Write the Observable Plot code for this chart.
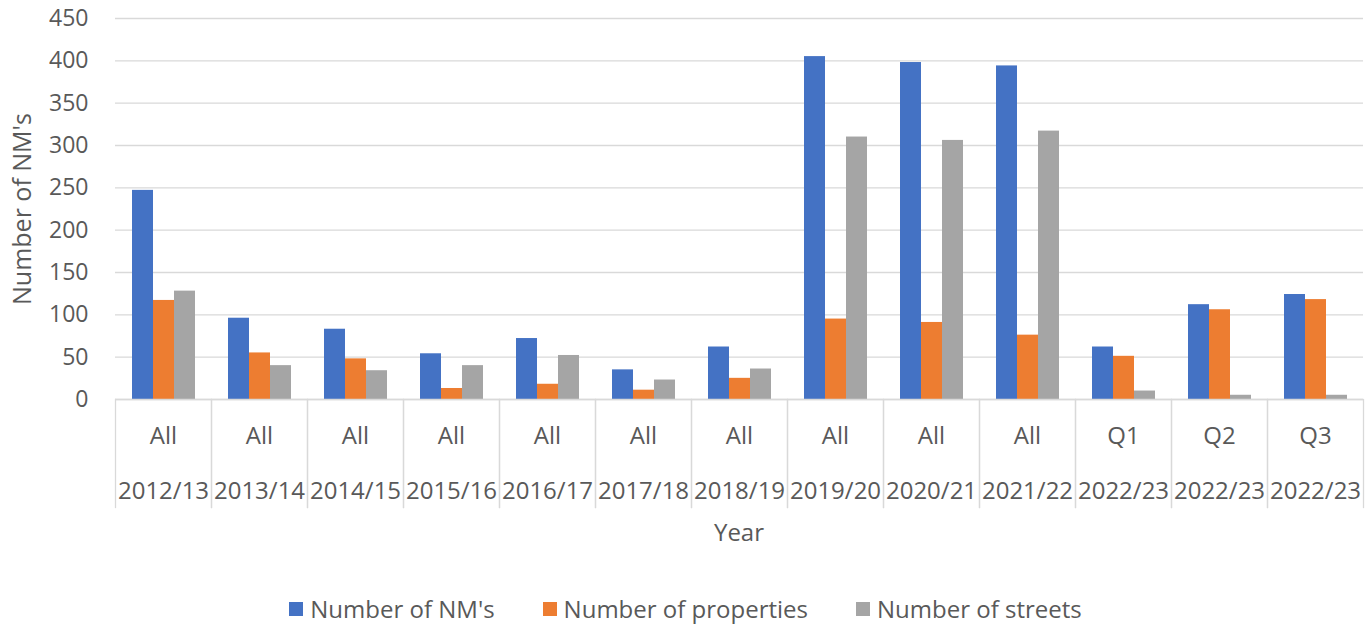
<!DOCTYPE html>
<html>
<head>
<meta charset="utf-8">
<script src="https://cdn.jsdelivr.net/npm/d3@7"></script>
<script src="https://cdn.jsdelivr.net/npm/@observablehq/plot@0.6"></script>
<style>
  body { margin: 0; background: #fff; font-family: "Open Sans", sans-serif; color: #595959; }
  #year { margin-left: 112px; width: 1254px; text-align: center; font-size: 24px; line-height: 40px; height: 40px; }
  #legend { display: flex; justify-content: center; gap: 48px; margin-top: 42px; font-size: 24px; line-height: 30px; padding-left: 4px; }
  .item { display: flex; align-items: center; }
  .sw { width: 14px; height: 14px; margin-right: 7px; }
</style>
</head>
<body>
<div id="chart"></div>
<div id="year">Year</div>
<div id="legend"></div>
<script>
const periods = ["All","All","All","All","All","All","All","All","All","All","Q1","Q2","Q3"];
const years = ["2012/13","2013/14","2014/15","2015/16","2016/17","2017/18","2018/19","2019/20","2020/21","2021/22","2022/23","2022/23","2022/23"];
const nms        = [247, 96, 83, 54, 72, 35, 62, 405, 398, 394, 62, 112, 124];
const properties = [117, 55, 48, 13, 18, 11, 25,  95,  91,  76, 51, 106, 118];
const streets    = [128, 40, 34, 40, 52, 23, 36, 310, 306, 317, 10,   5,   5];
const seriesNames = ["Number of NM's", "Number of properties", "Number of streets"];
const colors = ["#4472C4", "#ED7D31", "#A5A5A5"];
const yTicks = [0, 50, 100, 150, 200, 250, 300, 350, 400, 450];

const keys = years.map((y, i) => `${periods[i]} ${y}`);
const seriesValues = [nms, properties, streets];
const rows = keys.flatMap((k, i) => seriesValues.map((arr, j) => ({key: k, series: seriesNames[j], value: arr[i]})));

const grid = "#d9d9d9";
const chart = Plot.plot({
  width: 1367,
  height: 512,
  marginTop: 18,
  marginBottom: 113,
  marginLeft: 112,
  marginRight: 1,
  style: {fontFamily: "'Open Sans', sans-serif", fontSize: "24px", color: "#595959", background: "#fff"},
  fx: {domain: keys, padding: 0},
  x: {domain: seriesNames, paddingInner: 0, paddingOuter: 0.76, axis: null},
  y: {domain: [0, 450], labelArrow: false},
  color: {domain: seriesNames, range: colors},
  marks: [
    Plot.gridY(yTicks, {stroke: grid, strokeOpacity: 1, strokeWidth: 1.3}),
    Plot.axisY(yTicks, {anchor: "left", tickSize: 0, tickPadding: 27, fontSize: 23, label: null}),
    Plot.axisY({anchor: "left", ticks: [], tickSize: 0, fontSize: 25, label: "Number of NM's", labelArrow: false, labelAnchor: "center", labelOffset: 102}),
    Plot.barY(rows, {fx: "key", x: "series", y: "value", fill: "series"}),
    Plot.ruleY([0], {stroke: grid, strokeWidth: 1.3}),
    Plot.frame({anchor: "left", stroke: grid, strokeWidth: 1.3, insetTop: 381, insetBottom: -108}),
    Plot.frame({anchor: "right", stroke: grid, strokeWidth: 1.3, insetTop: 381, insetBottom: -108}),
    Plot.axisFx({anchor: "bottom", tickSize: 0, tickPadding: 27, fontSize: 24, label: null, tickFormat: k => periods[keys.indexOf(k)]}),
    Plot.axisFx({anchor: "bottom", tickSize: 0, tickPadding: 82, fontSize: 24, label: null, tickFormat: k => years[keys.indexOf(k)]})
  ]
});
document.getElementById("chart").appendChild(chart);

const legend = document.getElementById("legend");
seriesNames.forEach((s, i) => {
  const it = document.createElement("div");
  it.className = "item";
  const sw = document.createElement("span");
  sw.className = "sw";
  sw.style.background = colors[i];
  const t = document.createElement("span");
  t.textContent = s;
  it.appendChild(sw); it.appendChild(t);
  legend.appendChild(it);
});
</script>
</body>
</html>
